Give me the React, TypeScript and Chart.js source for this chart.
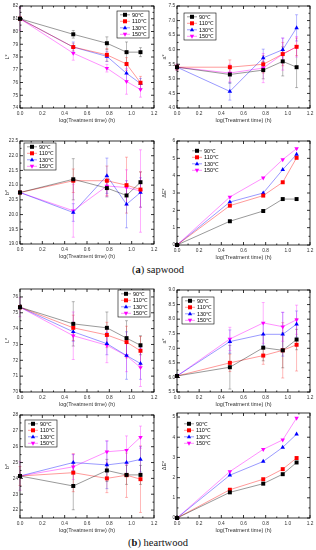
import React, { useEffect, useRef } from 'react';
import { Chart, registerables } from 'chart.js';

Chart.register(...registerables);

// ---------- data ----------
const X_LOG = [0, 0.477, 0.778, 0.954, 1.079];
const X_TICKS = [0, 0.2, 0.4, 0.6, 0.8, 1.0, 1.2];
const TEMPS = ['90℃', '110℃', '130℃', '150℃'];
const X_TITLE = 'log(Treatment time) (h)';

const SAP_L = [
  [81.0, 79.78, 79.08, 78.38, 78.38],
  [81.0, 78.78, 78.17, 77.45, 75.98],
  [81.0, 78.78, 78.05, 76.72, 75.92],
  [81.0, 78.3, 77.12, 76.08, 75.45],
];
const SAP_L_ERR = [
  [0, 0.3, 0.5, 0.8, 0.35],
  [0.15, 0.3, 0.5, 0.5, 0.5],
  [0, 0.4, 0.4, 0.6, 0.4],
  [0.9, 0.55, 0.3, 1.0, 0.6],
];
const SAP_L_TICKS = [74, 75, 76, 77, 78, 79, 80, 81, 82];

const SAP_A = [
  [5.4, 5.15, 5.3, 5.6, 5.4],
  [5.4, 5.4, 5.5, 5.85, 6.1],
  [5.4, 4.57, 5.72, 6.0, 6.75],
  [5.4, 5.2, 5.37, 5.85, 6.1],
];
const SAP_A_ERR = [
  [0.1, 0.3, 0.3, 0.5, 0.7],
  [0.1, 0.25, 0.3, 0.4, 0.3],
  [0.05, 0.3, 0.3, 0.4, 0.45],
  [0.1, 0.3, 0.5, 0.55, 0.35],
];
const SAP_A_TICKS = [4.0, 4.5, 5.0, 5.5, 6.0, 6.5, 7.0, 7.5];

const SAP_B = [
  [20.75, 21.2, 20.9, 20.65, 21.1],
  [20.75, 21.15, 21.15, 21.0, 20.85],
  [20.75, 20.07, 21.32, 20.35, 20.75],
  [20.75, 20.13, 20.97, 20.92, 20.8],
];
const SAP_B_ERR = [
  [0, 0.7, 0.3, 0.3, 0.35],
  [0, 0.4, 0.5, 0.95, 0.6],
  [0, 0.3, 0.6, 0.8, 0.5],
  [0, 0.9, 0.35, 0.6, 1.4],
];
const SAP_B_TICKS = [19.0, 19.5, 20.0, 20.5, 21.0, 21.5, 22.0, 22.5];

const SAP_E = [
  [0, 1.37, 1.96, 2.65, 2.65],
  [0, 2.27, 2.85, 3.62, 5.03],
  [0, 2.48, 3.0, 4.35, 5.23],
  [0, 2.77, 3.87, 4.93, 5.56],
];
const SAP_E_TICKS = [0, 1, 2, 3, 4, 5, 6];

const HEART_L = [
  [75.35, 74.3, 74.05, 73.4, 72.95],
  [75.35, 74.05, 73.6, 73.15, 72.6],
  [75.35, 73.8, 73.05, 72.3, 71.8],
  [75.35, 73.55, 72.95, 72.28, 71.55],
];
const HEART_L_ERR = [
  [0, 1.4, 1.0, 1.1, 0.6],
  [0.1, 0.8, 0.8, 1.0, 0.9],
  [0, 0.6, 0.7, 1.5, 1.0],
  [0.6, 1.5, 1.1, 1.0, 1.2],
];
const HEART_L_TICKS = [70, 71, 72, 73, 74, 75, 76];

const HEART_A = [
  [6.05, 6.35, 7.02, 6.93, 7.3],
  [6.05, 6.5, 6.75, 6.93, 7.12],
  [6.05, 7.23, 7.48, 7.48, 7.83],
  [6.05, 7.32, 7.87, 7.74, 7.98],
];
const HEART_A_ERR = [
  [0, 0.75, 0.45, 0.6, 0.35],
  [0, 0.3, 0.3, 0.95, 0.9],
  [0, 0.4, 0.4, 0.75, 0.45],
  [0, 0.4, 0.7, 0.5, 0.5],
];
const HEART_A_TICKS = [5.5, 6.0, 6.5, 7.0, 7.5, 8.0, 8.5, 9.0];

const HEART_B = [
  [24.15, 23.52, 24.5, 24.22, 24.22],
  [24.15, 24.36, 24.0, 24.2, 23.95],
  [24.15, 25.0, 24.85, 25.0, 25.2],
  [24.15, 24.73, 25.68, 25.78, 26.6],
];
const HEART_B_ERR = [
  [0, 1.5, 0.7, 0.6, 0.6],
  [0.6, 1.2, 0.9, 1.4, 2.1],
  [0, 0.5, 1.5, 0.8, 0.8],
  [0.9, 0.8, 0.7, 0.9, 0.7],
];
const HEART_B_TICKS = [22, 23, 24, 25, 26, 27, 28];

const HEART_E = [
  [0, 1.27, 1.7, 2.17, 2.75],
  [0, 1.4, 1.92, 2.42, 2.97],
  [0, 2.12, 2.8, 3.5, 4.15],
  [0, 2.3, 3.4, 3.87, 4.95],
];
const HEART_E_TICKS = [0, 1, 2, 3, 4, 5];

// ---------- styles ----------
const COLORS = ['#000000', '#ff0000', '#0000ff', '#ff00ff'];
const LINE_COLORS = ['rgba(0,0,0,0.5)', 'rgba(255,0,0,0.5)', 'rgba(0,0,255,0.5)', 'rgba(255,0,255,0.55)'];
const ERR_COLORS = ['rgba(0,0,0,0.4)', 'rgba(255,0,0,0.4)', 'rgba(0,0,255,0.4)', 'rgba(255,0,255,0.45)'];
const POINT_STYLES = ['rect', 'rect', 'triangle', 'triangle'];
const POINT_ROT = [0, 0, 0, 180];
const FONT = '"Liberation Sans", Arial, sans-serif';
const TEXT_COLOR = '#333';

const PAD_L = 20, PAD_T = 6, PAD_R = 6, PAD_B = 18;

function drawMarker(ctx: CanvasRenderingContext2D, i: number, x: number, y: number) {
  ctx.save();
  ctx.fillStyle = COLORS[i];
  ctx.beginPath();
  if (POINT_STYLES[i] === 'rect') {
    ctx.rect(x - 2, y - 2, 4, 4);
  } else if (POINT_ROT[i] === 0) {
    ctx.moveTo(x, y - 2.4); ctx.lineTo(x + 2.2, y + 1.5); ctx.lineTo(x - 2.2, y + 1.5);
  } else {
    ctx.moveTo(x, y + 2.4); ctx.lineTo(x + 2.2, y - 1.5); ctx.lineTo(x - 2.2, y - 1.5);
  }
  ctx.closePath();
  ctx.fill();
  ctx.restore();
}

const errorBarPlugin = {
  id: 'errorBars',
  beforeDatasetsDraw(chart: any) {
    const ctx = chart.ctx;
    const xs = chart.scales.x, ys = chart.scales.y;
    chart.data.datasets.forEach((ds: any) => {
      const errs: number[] | undefined = ds.errors;
      if (!errs) return;
      ctx.save();
      ctx.strokeStyle = ds.errColor;
      ctx.lineWidth = 0.7;
      ds.data.forEach((p: any, j: number) => {
        const e = errs[j];
        if (!e) return;
        const x = xs.getPixelForValue(p.x);
        const y1 = ys.getPixelForValue(p.y - e);
        const y2 = ys.getPixelForValue(p.y + e);
        ctx.beginPath();
        ctx.moveTo(x, y1); ctx.lineTo(x, y2);
        ctx.moveTo(x - 1.5, y1); ctx.lineTo(x + 1.5, y1);
        ctx.moveTo(x - 1.5, y2); ctx.lineTo(x + 1.5, y2);
        ctx.stroke();
      });
      ctx.restore();
    });
  },
};

// frame, inward ticks, tick labels and axis titles drawn from the chart's scales
const framePlugin = {
  id: 'frame',
  afterDraw(chart: any, _args: any, opts: any) {
    const ctx = chart.ctx;
    const a = chart.chartArea;
    const xs = chart.scales.x, ys = chart.scales.y;
    const xt: number[] = opts.xTicks;
    const yt: number[] = opts.yTicks;
    ctx.save();
    ctx.strokeStyle = '#000';
    ctx.lineWidth = 0.8;
    ctx.strokeRect(a.left, a.top, a.right - a.left, a.bottom - a.top);
    ctx.beginPath();
    xt.forEach((v, k) => {
      const x = xs.getPixelForValue(v);
      ctx.moveTo(x, a.bottom); ctx.lineTo(x, a.bottom - 3);
      ctx.moveTo(x, a.top); ctx.lineTo(x, a.top + 3);
      if (k < xt.length - 1) {
        const xm = xs.getPixelForValue((v + xt[k + 1]) / 2);
        ctx.moveTo(xm, a.bottom); ctx.lineTo(xm, a.bottom - 1.5);
        ctx.moveTo(xm, a.top); ctx.lineTo(xm, a.top + 1.5);
      }
    });
    yt.forEach((v, k) => {
      const y = ys.getPixelForValue(v);
      ctx.moveTo(a.left, y); ctx.lineTo(a.left + 3, y);
      ctx.moveTo(a.right, y); ctx.lineTo(a.right - 3, y);
      if (k < yt.length - 1) {
        const ym = ys.getPixelForValue((v + yt[k + 1]) / 2);
        ctx.moveTo(a.left, ym); ctx.lineTo(a.left + 1.5, ym);
        ctx.moveTo(a.right, ym); ctx.lineTo(a.right - 1.5, ym);
      }
    });
    ctx.stroke();

    ctx.fillStyle = TEXT_COLOR;
    ctx.font = `4.8px ${FONT}`;
    ctx.textAlign = 'center';
    ctx.textBaseline = 'middle';
    xt.forEach((v) => {
      ctx.fillText(v.toFixed(1), xs.getPixelForValue(v), a.bottom + 5.3);
    });
    ctx.textAlign = 'right';
    yt.forEach((v) => {
      ctx.fillText(v.toFixed(opts.yDec), a.left - 1.8, ys.getPixelForValue(v));
    });
    ctx.font = `5.5px ${FONT}`;
    ctx.textAlign = 'center';
    ctx.fillText(X_TITLE, (a.left + a.right) / 2, a.bottom + 12.7);
    ctx.save();
    ctx.translate(a.left - 13, (a.top + a.bottom) / 2);
    ctx.rotate(-Math.PI / 2);
    ctx.fillText(opts.yTitle, 0, 0);
    ctx.restore();
    ctx.restore();
  },
};

const miniLegendPlugin = {
  id: 'miniLegend',
  afterDraw(chart: any, _args: any, opts: any) {
    if (!opts || opts.dx === undefined) return;
    const ctx = chart.ctx;
    const a = chart.chartArea;
    const x0 = a.left + opts.dx, y0 = a.top + opts.dy;
    ctx.save();
    if (opts.box) {
      ctx.fillStyle = '#fff';
      ctx.fillRect(x0, y0, 32, 27);
      ctx.strokeStyle = '#000';
      ctx.lineWidth = 0.6;
      ctx.strokeRect(x0, y0, 32, 27);
    }
    chart.data.datasets.forEach((ds: any, i: number) => {
      const y = y0 + 3.8 + i * 6.5;
      ctx.strokeStyle = LINE_COLORS[i];
      ctx.lineWidth = 0.8;
      ctx.beginPath();
      ctx.moveTo(x0 + 3, y); ctx.lineTo(x0 + 13, y);
      ctx.stroke();
      drawMarker(ctx, i, x0 + 8, y);
      ctx.fillStyle = '#000';
      ctx.font = `5.5px ${FONT}`;
      ctx.textBaseline = 'middle';
      ctx.textAlign = 'left';
      ctx.fillText(ds.label, x0 + 15, y + 0.3);
    });
    ctx.restore();
  },
};

type Spec = {
  plotLeft: number; plotTop: number; plotW: number; plotH: number;
  yTicks: number[]; yMin: number; yMax: number; yDec: number; yTitle: string;
  series: number[][]; errors?: number[][];
  legend: { dx: number; dy: number; box: boolean };
};

const LEFT_X = 20, LEFT_W = 134, RIGHT_X = 177, RIGHT_W = 133;

const PANELS: Spec[] = [
  { plotLeft: LEFT_X, plotTop: 6, plotW: LEFT_W, plotH: 102, yTicks: SAP_L_TICKS, yMin: 74, yMax: 82, yDec: 0, yTitle: 'L*', series: SAP_L, errors: SAP_L_ERR, legend: { dx: 97, dy: 5, box: true } },
  { plotLeft: RIGHT_X, plotTop: 6, plotW: RIGHT_W, plotH: 102, yTicks: SAP_A_TICKS, yMin: 4, yMax: 7.5, yDec: 1, yTitle: 'a*', series: SAP_A, errors: SAP_A_ERR, legend: { dx: 7, dy: 7, box: true } },
  { plotLeft: LEFT_X, plotTop: 141, plotW: LEFT_W, plotH: 103, yTicks: SAP_B_TICKS, yMin: 19, yMax: 22.5, yDec: 1, yTitle: 'b*', series: SAP_B, errors: SAP_B_ERR, legend: { dx: 4, dy: 2, box: true } },
  { plotLeft: RIGHT_X, plotTop: 141, plotW: RIGHT_W, plotH: 104, yTicks: SAP_E_TICKS, yMin: 0, yMax: 6, yDec: 0, yTitle: 'ΔE*', series: SAP_E, legend: { dx: 12, dy: 6, box: false } },
  { plotLeft: LEFT_X, plotTop: 289, plotW: LEFT_W, plotH: 103, yTicks: HEART_L_TICKS, yMin: 70, yMax: 76.5, yDec: 0, yTitle: 'L*', series: HEART_L, errors: HEART_L_ERR, legend: { dx: 98, dy: 1, box: true } },
  { plotLeft: RIGHT_X, plotTop: 290, plotW: RIGHT_W, plotH: 102, yTicks: HEART_A_TICKS, yMin: 5.5, yMax: 9, yDec: 1, yTitle: 'a*', series: HEART_A, errors: HEART_A_ERR, legend: { dx: 5, dy: 7, box: true } },
  { plotLeft: LEFT_X, plotTop: 415, plotW: LEFT_W, plotH: 103, yTicks: HEART_B_TICKS, yMin: 21.5, yMax: 28, yDec: 0, yTitle: 'b*', series: HEART_B, errors: HEART_B_ERR, legend: { dx: 5, dy: 5, box: true } },
  { plotLeft: RIGHT_X, plotTop: 413, plotW: RIGHT_W, plotH: 105, yTicks: HEART_E_TICKS, yMin: 0, yMax: 5.2, yDec: 0, yTitle: 'ΔE*', series: HEART_E, legend: { dx: 4, dy: 7, box: false } },
];

function Panel({ spec }: { spec: Spec }) {
  const ref = useRef<HTMLCanvasElement>(null);
  const w = PAD_L + spec.plotW + PAD_R;
  const h = PAD_T + spec.plotH + PAD_B;
  useEffect(() => {
    const datasets = spec.series.map((vals, i) => ({
      label: TEMPS[i],
      data: vals.map((v, j) => ({ x: X_LOG[j], y: v })),
      borderColor: LINE_COLORS[i],
      backgroundColor: COLORS[i],
      pointBackgroundColor: COLORS[i],
      pointBorderColor: COLORS[i],
      pointBorderWidth: 0,
      pointStyle: POINT_STYLES[i],
      rotation: POINT_ROT[i],
      pointRadius: POINT_STYLES[i] === 'rect' ? 2.8 : 2.6,
      borderWidth: 0.8,
      tension: 0,
      clip: false as any,
      errors: spec.errors ? spec.errors[i] : undefined,
      errColor: ERR_COLORS[i],
    }));
    const chart = new Chart(ref.current!, {
      type: 'line',
      data: { datasets: datasets as any },
      plugins: [errorBarPlugin, framePlugin, miniLegendPlugin],
      options: {
        animation: false,
        responsive: false,
        maintainAspectRatio: false,
        events: [],
        layout: { padding: { top: PAD_T, right: PAD_R, left: PAD_L, bottom: PAD_B } },
        plugins: {
          legend: { display: false },
          tooltip: { enabled: false },
          miniLegend: spec.legend,
          frame: { xTicks: X_TICKS, yTicks: spec.yTicks, yDec: spec.yDec, yTitle: spec.yTitle },
        } as any,
        scales: {
          x: { type: 'linear', min: 0, max: 1.2, display: false },
          y: { type: 'linear', min: spec.yMin, max: spec.yMax, display: false },
        },
      } as any,
    });
    return () => chart.destroy();
  }, [spec]);
  return (
    <canvas
      ref={ref}
      width={w}
      height={h}
      style={{ position: 'absolute', left: spec.plotLeft - PAD_L, top: spec.plotTop - PAD_T, width: w, height: h }}
    />
  );
}

const captionStyle: React.CSSProperties = {
  position: 'absolute',
  left: 0,
  width: 316,
  textAlign: 'center',
  fontFamily: '"Liberation Serif", "Times New Roman", serif',
  fontSize: 10.5,
  lineHeight: '12px',
  color: '#111',
};

export default function App() {
  return (
    <div style={{ position: 'fixed', left: 0, top: 0, width: 316, height: 550, background: '#fff', overflow: 'hidden' }}>
      {PANELS.map((p, i) => (
        <Panel key={i} spec={p} />
      ))}
      <div style={{ ...captionStyle, top: 264 }}>
        (<b>a</b>) sapwood
      </div>
      <div style={{ ...captionStyle, top: 537 }}>
        (<b>b</b>) heartwood
      </div>
    </div>
  );
}
